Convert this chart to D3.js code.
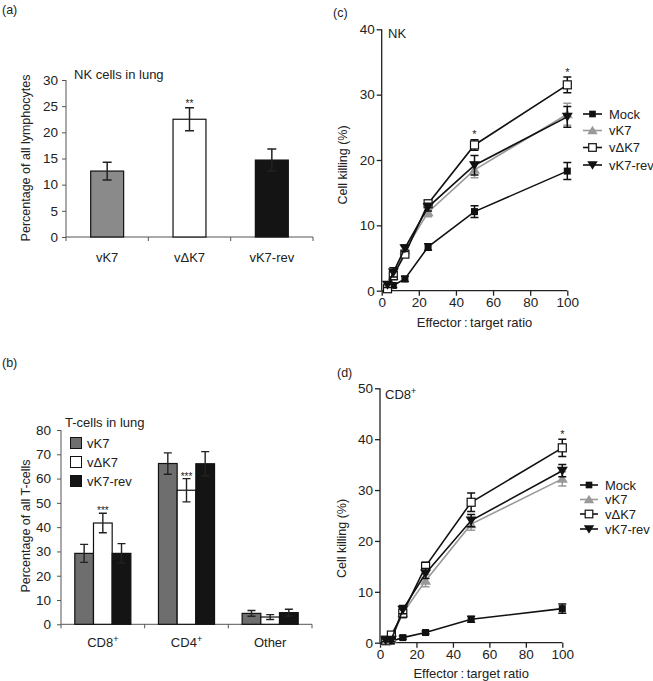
<!DOCTYPE html>
<html><head><meta charset="utf-8">
<script src="https://cdn.jsdelivr.net/npm/d3@7"></script>
<style>
html,body{margin:0;padding:0;background:#fff;}
svg text{font-family:"Liberation Sans",Arial,sans-serif;fill:#222;}
</style></head>
<body>
<svg id="chart" width="653" height="681"></svg>
<script>
// ---------- data ----------
const nkCategories = ["vK7", "v\u0394K7", "vK7-rev"];
const nkValues = [12.6, 22.5, 14.7];
const nkErrors = [1.7, 2.2, 2.1];
const nkTicks = [0, 5, 10, 15, 20, 25, 30];

const tGroups = ["CD8", "CD4", "Other"];
const tGroupSup = ["+", "+", ""];
const tSeries = ["vK7", "v\u0394K7", "vK7-rev"];
const tVK7 = [29.2, 66.2, 4.5];
const tVK7Err = [3.7, 4.4, 1.2];
const tVdK7 = [41.7, 55.2, 3.0];
const tVdK7Err = [4.0, 4.8, 1.0];
const tRev = [29.2, 66.1, 4.8];
const tRevErr = [4.0, 5.0, 1.4];
const tTicks = [0, 10, 20, 30, 40, 50, 60, 70, 80];

const ratios = [3.125, 6.25, 12.5, 25, 50, 100];
const lineSeries = ["Mock", "vK7", "v\u0394K7", "vK7-rev"];
const nkMock = [0.6, 0.8, 1.8, 6.7, 12.1, 18.3];
const nkMockErr = [0.3, 0.3, 0.4, 0.5, 0.9, 1.3];
const nkVK7 = [0.8, 2.3, 6.2, 12.0, 18.5, 27.0];
const nkVK7Err = [0.4, 0.6, 0.6, 0.7, 1.2, 1.7];
const nkVdK7 = [0.3, 2.3, 5.6, 13.3, 22.3, 31.5];
const nkVdK7Err = [0.3, 0.6, 0.5, 0.5, 0.8, 1.2];
const nkRev = [0.9, 2.8, 6.5, 12.8, 19.2, 26.6];
const nkRevErr = [0.4, 0.7, 0.5, 0.6, 1.5, 1.6];
const nkYTicks = [0, 10, 20, 30, 40];

const cdMock = [0.3, 0.3, 1.0, 2.0, 4.6, 6.7];
const cdMockErr = [0.2, 0.2, 0.3, 0.3, 0.6, 0.9];
const cdVK7 = [0.2, 0.8, 5.8, 12.2, 23.3, 32.2];
const cdVK7Err = [0.2, 0.5, 1.0, 1.2, 1.2, 1.4];
const cdVdK7 = [0.5, 1.5, 5.8, 15.0, 27.6, 38.3];
const cdVdK7Err = [0.3, 0.5, 0.8, 0.8, 1.8, 1.7];
const cdRev = [0.5, 0.6, 6.5, 13.6, 24.0, 33.8];
const cdRevErr = [0.3, 0.4, 0.8, 1.0, 1.2, 1.2];
const cdYTicks = [0, 10, 20, 30, 40, 50];
const xTicks = [0, 20, 40, 60, 80, 100];

// ---------- drawing ----------
const svg = d3.select("#chart");
const FS = 12.5;
const TICKFS = 13.5;

function label(t, x, y, opts = {}) {
  return svg.append("text").attr("x", x).attr("y", y)
    .attr("font-size", opts.size || FS)
    .attr("text-anchor", opts.anchor || "start")
    .attr("fill", "#222")
    .text(t);
}
function rotLabel(t, cx, cy) {
  svg.append("text").attr("transform", `translate(${cx + 4.5},${cy}) rotate(-90)`)
    .attr("font-size", FS).attr("text-anchor", "middle").attr("fill", "#222").text(t);
}

// ===== Panel (a) =====
label("(a)", 2, 14);
{
  const x = d3.scaleBand().domain(nkCategories).range([66, 313]).paddingInner(0.6).paddingOuter(0.3);
  const y = d3.scaleLinear().domain([0, 30]).range([237, 80]);
  const g = svg.append("g");
  const ya = g.append("g").attr("transform", "translate(66,0)")
    .call(d3.axisLeft(y).tickValues(nkTicks).tickSize(4).tickPadding(4));
  ya.select(".domain").attr("stroke", "#555").attr("d", `M0,${y(0)}V${y(30)}`);
  ya.selectAll("line").attr("stroke", "#555");
  ya.selectAll("text").attr("font-size", TICKFS).attr("font-family", "Liberation Sans, Arial").attr("fill", "#222");
  const step = x.step();
  g.append("line").attr("x1", 66).attr("x2", 313).attr("y1", y(0)).attr("y2", y(0)).attr("stroke", "#555");
  d3.range(nkCategories.length + 1).forEach(i => {
    const xx = 66 + i * step;
    g.append("line").attr("x1", xx).attr("x2", xx).attr("y1", y(0)).attr("y2", y(0) + 4).attr("stroke", "#555");
  });
  const fills = ["#8a8a8a", "#ffffff", "#141414"];
  nkCategories.forEach((c, i) => {
    g.append("rect").attr("x", x(c)).attr("y", y(nkValues[i])).attr("width", x.bandwidth())
      .attr("height", y(0) - y(nkValues[i])).attr("fill", fills[i]).attr("stroke", "#111").attr("stroke-width", 1.2);
    const cx = x(c) + x.bandwidth() / 2;
    const lo = y(nkValues[i] - nkErrors[i]), hi = y(nkValues[i] + nkErrors[i]);
    g.append("path").attr("d", `M${cx},${lo}V${hi}M${cx - 4.5},${lo}H${cx + 4.5}M${cx - 4.5},${hi}H${cx + 4.5}`)
      .attr("stroke", "#222").attr("stroke-width", 1.5).attr("fill", "none");
    label(c, cx, 262, { anchor: "middle", size: 13 });
  });
  const ci = 1;
  label("**", x(nkCategories[ci]) + x.bandwidth() / 2, y(nkValues[ci] + nkErrors[ci]) - 1, { anchor: "middle", size: 10 });
  label("NK cells in lung", 74, 79, { size: 13 });
  rotLabel("Percentage of all lymphocytes", 25, 158);
}

// ===== Panel (b) =====
label("(b)", 2, 367);
{
  const x0 = d3.scaleBand().domain(tGroups).range([61, 312]).paddingInner(0.33).paddingOuter(0.165);
  const x1 = d3.scaleBand().domain(tSeries).range([0, x0.bandwidth()]);
  const y = d3.scaleLinear().domain([0, 80]).range([624.3, 430]);
  const g = svg.append("g");
  const ya = g.append("g").attr("transform", "translate(61,0)")
    .call(d3.axisLeft(y).tickValues(tTicks).tickSize(4).tickPadding(6));
  ya.select(".domain").attr("stroke", "#555").attr("d", `M0,${y(0)}V${y(80)}`);
  ya.selectAll("line").attr("stroke", "#555");
  ya.selectAll("text").attr("font-size", TICKFS).attr("font-family", "Liberation Sans, Arial").attr("fill", "#222");
  const step = x0.step();
  g.append("line").attr("x1", 61).attr("x2", 312).attr("y1", y(0)).attr("y2", y(0)).attr("stroke", "#555");
  d3.range(tGroups.length + 1).forEach(i => {
    const xx = 61 + i * step;
    g.append("line").attr("x1", xx).attr("x2", xx).attr("y1", y(0)).attr("y2", y(0) + 4).attr("stroke", "#555");
  });
  const vals = [tVK7, tVdK7, tRev];
  const errs = [tVK7Err, tVdK7Err, tRevErr];
  const fills = ["#6e6e6e", "#ffffff", "#141414"];
  tGroups.forEach((grp, gi) => {
    tSeries.forEach((s, si) => {
      const v = vals[si][gi];
      const bx = x0(grp) + x1(s);
      g.append("rect").attr("x", bx).attr("y", y(v)).attr("width", x1.bandwidth())
        .attr("height", y(0) - y(v)).attr("fill", fills[si]).attr("stroke", "#111").attr("stroke-width", 1.2);
    });
    tSeries.forEach((s, si) => {
      const v = vals[si][gi], e = errs[si][gi];
      const cx = x0(grp) + x1(s) + x1.bandwidth() / 2;
      const lo = y(v - e), hi = y(v + e);
      g.append("path").attr("d", `M${cx},${lo}V${hi}M${cx - 4},${lo}H${cx + 4}M${cx - 4},${hi}H${cx + 4}`)
        .attr("stroke", "#222").attr("stroke-width", 1.4).attr("fill", "none");
    });
    const t = label(grp, x0(grp) + x0.bandwidth() / 2, 647, { anchor: "middle", size: 13 });
    if (tGroupSup[gi]) t.append("tspan").attr("dy", -5).attr("font-size", 9).text(tGroupSup[gi]);
  });
  [0, 1].forEach(gi => {
    const cx = x0(tGroups[gi]) + x1(tSeries[1]) + x1.bandwidth() / 2;
    label("***", cx, y(tVdK7[gi] + tVdK7Err[gi]) + 1, { anchor: "middle", size: 10 });
  });
  const ly = [443, 462, 481];
  tSeries.forEach((s, i) => {
    g.append("rect").attr("x", 70.5).attr("y", ly[i] - 5.5).attr("width", 11).attr("height", 11)
      .attr("fill", fills[i]).attr("stroke", "#111").attr("stroke-width", 1);
    label(s, 87, ly[i] + 4.5, { size: 13 });
  });
  label("T-cells in lung", 65, 427, { size: 13 });
  rotLabel("Percentage of all T-cells", 25, 526);
}

// ===== line panels =====
function marker(g, type, cx, cy, scale) {
  const s = scale || 1;
  if (type === 0) {
    g.append("rect").attr("x", cx - 3.5 * s).attr("y", cy - 3.5 * s).attr("width", 7 * s).attr("height", 7 * s)
      .attr("fill", "#111");
  } else if (type === 1) {
    g.append("path").attr("d", `M${cx},${cy - 5 * s}L${cx + 5.5 * s},${cy + 4 * s}L${cx - 5.5 * s},${cy + 4 * s}Z`)
      .attr("fill", "#999");
  } else if (type === 2) {
    g.append("rect").attr("x", cx - 4 * s).attr("y", cy - 4 * s).attr("width", 8 * s).attr("height", 8 * s)
      .attr("fill", "#fff").attr("stroke", "#111").attr("stroke-width", 1.2);
  } else {
    g.append("path").attr("d", `M${cx},${cy + 5 * s}L${cx + 5.5 * s},${cy - 4 * s}L${cx - 5.5 * s},${cy - 4 * s}Z`)
      .attr("fill", "#111");
  }
}
const lineColors = ["#111", "#999", "#111", "#111"];

function linePanel(cfg) {
  const x = d3.scaleLinear().domain([0, 100]).range([cfg.x0, cfg.x1]);
  const y = d3.scaleLinear().domain([0, cfg.ymax]).range([cfg.y0, cfg.y1]);
  const g = svg.append("g");
  const ya = g.append("g").attr("transform", `translate(${cfg.x0},0)`)
    .call(d3.axisLeft(y).tickValues(cfg.yTicks).tickSize(5).tickPadding(2));
  ya.select(".domain").attr("stroke", "#222").attr("stroke-width", 1.3).attr("d", `M0,${cfg.y0}V${cfg.y1}`);
  ya.selectAll("line").attr("stroke", "#222").attr("stroke-width", 1.3);
  ya.selectAll("text").attr("font-size", TICKFS).attr("font-family", "Liberation Sans, Arial").attr("fill", "#222");
  const xa = g.append("g").attr("transform", `translate(0,${cfg.y0})`)
    .call(d3.axisBottom(x).tickValues(xTicks).tickSize(5).tickPadding(2));
  xa.select(".domain").attr("stroke", "#222").attr("stroke-width", 1.3).attr("d", `M${cfg.x0},0H${cfg.x1}`);
  xa.selectAll("line").attr("stroke", "#222").attr("stroke-width", 1.3);
  xa.selectAll("text").attr("font-size", TICKFS).attr("font-family", "Liberation Sans, Arial").attr("fill", "#222");

  const line = d3.line().x((d, i) => x(ratios[i])).y(d => y(d));
  cfg.series.forEach((vals, si) => {
    g.append("path").datum(vals).attr("d", line).attr("fill", "none")
      .attr("stroke", lineColors[si]).attr("stroke-width", 1.6);
    vals.forEach((v, i) => {
      const e = cfg.errors[si][i];
      const cx = x(ratios[i]), lo = y(v - e), hi = y(v + e);
      g.append("path").attr("d", `M${cx},${lo}V${hi}M${cx - 4},${lo}H${cx + 4}M${cx - 4},${hi}H${cx + 4}`)
        .attr("stroke", lineColors[si]).attr("stroke-width", 1.5).attr("fill", "none");
    });
    vals.forEach((v, i) => marker(g, si, x(ratios[i]), y(v)));
  });
  cfg.stars.forEach(i => {
    const v = cfg.series[2][i] + cfg.errors[2][i];
    label("*", x(ratios[i]), y(v) - 1.5, { anchor: "middle", size: 11 });
  });
  lineSeries.forEach((s, i) => {
    const ly = cfg.legY[i];
    g.append("line").attr("x1", cfg.legX0).attr("x2", cfg.legX1).attr("y1", ly).attr("y2", ly)
      .attr("stroke", lineColors[i]).attr("stroke-width", 1.6);
    marker(g, i, (cfg.legX0 + cfg.legX1) / 2, ly, 0.95);
    label(s, cfg.legText, ly + 4.5, { size: 13 });
  });
  label("Effector\u2009:\u2009target ratio", (cfg.x0 + cfg.x1) / 2, cfg.titleY, { anchor: "middle", size: 13 });
  rotLabel("Cell killing (%)", cfg.ylabX, cfg.ylabY);
}

// ===== Panel (c) =====
label("(c)", 333, 17);
linePanel({
  x0: 381.7, x1: 567.3, y0: 290.7, y1: 29.3, ymax: 40, yTicks: nkYTicks,
  series: [nkMock, nkVK7, nkVdK7, nkRev],
  errors: [nkMockErr, nkVK7Err, nkVdK7Err, nkRevErr],
  stars: [4, 5],
  legY: [114, 130.5, 147.5, 165], legX0: 583, legX1: 602, legText: 609,
  titleY: 326.5, ylabX: 342, ylabY: 165
});
label("NK", 388, 38, { size: 13 });

// ===== Panel (d) =====
label("(d)", 337, 377);
linePanel({
  x0: 380, x1: 562.3, y0: 642.7, y1: 388.3, ymax: 50, yTicks: cdYTicks,
  series: [cdMock, cdVK7, cdVdK7, cdRev],
  errors: [cdMockErr, cdVK7Err, cdVdK7Err, cdRevErr],
  stars: [5],
  legY: [485, 499.5, 514, 529], legX0: 580, legX1: 598, legText: 605,
  titleY: 677.5, ylabX: 341.7, ylabY: 538.5
});
{
  const t = label("CD8", 385, 398.5, { size: 13 });
  t.append("tspan").attr("dy", -5).attr("font-size", 9).text("+");
}
</script>
</body></html>
